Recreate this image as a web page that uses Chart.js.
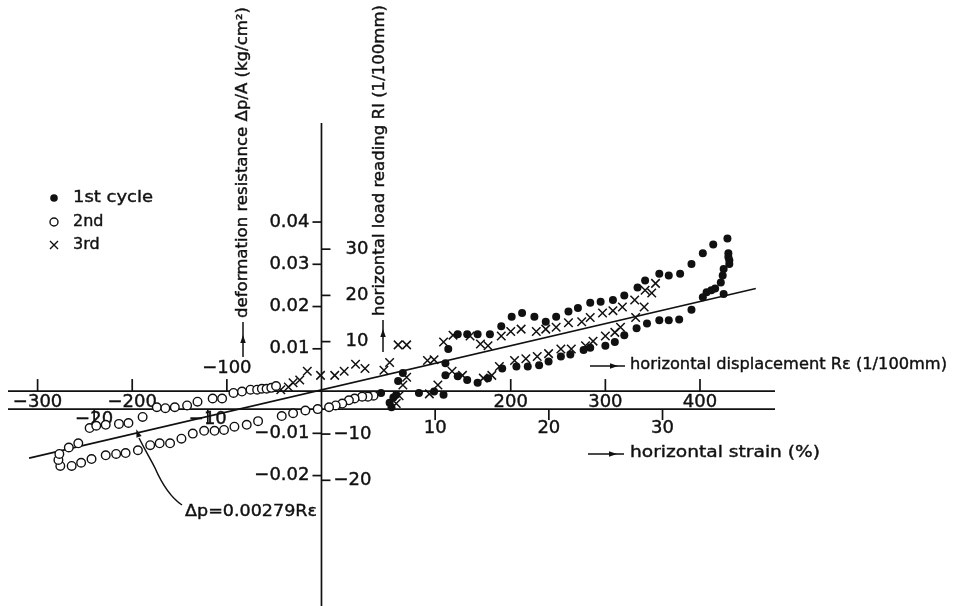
<!DOCTYPE html>
<html>
<head>
<meta charset="utf-8">
<script src="https://cdn.jsdelivr.net/npm/chart.js@4"></script>
<style>
  body { margin: 0; background: #fff; }
  #wrap { width: 953px; height: 606px; position: relative; }
</style>
</head>
<body>
<div id="wrap"><canvas id="chart"></canvas></div>
<script>
// x: horizontal displacement Re (1/100mm), y: horizontal load reading RI (1/100mm)
const firstRe = [63, 72, 74, 76, 79, 81, 86, 103, 119, 129, 131, 131, 134, 144, 154, 165, 178, 190, 201, 212,
  225, 237, 248, 261, 271, 284, 295, 308, 320, 334, 342, 357, 367, 379, 391, 403, 414, 429, 430, 430,
  431, 431, 425, 424, 422, 416, 412, 407, 403, 425, 391, 378, 367, 357, 344, 333, 320, 310, 300, 284,
  277, 263, 253, 240, 230, 218, 206, 191, 176, 165, 154, 144];
const firstRI = [-1.1, -3.2, -4.2, -2.1, -1.5, 1.5, 3.2, -1.1, -0.8, -1.5, 2.7, 5.3, 8.4, 11.6, 11.6, 11.6, 11.6, 13.3, 15.4, 16.2,
  15.4, 14.3, 15.4, 16.5, 17.3, 18.4, 18.6, 19.0, 20.0, 21.7, 23.2, 24.7, 24.3, 24.7, 26.8, 29.1, 31.0, 32.3, 29.1, 28.3,
  27.6, 26.8, 25.7, 24.3, 22.8, 21.5, 21.1, 20.7, 19.6, 20.3, 16.9, 14.8, 14.6, 14.6, 13.9, 12.9, 11.4, 9.9, 9.1, 8.7,
  8.2, 7.2, 6.8, 5.7, 4.9, 4.6, 4.6, 4.2, 2.1, 1.1, 1.7, 2.5];

const secondRe = [55, 49, 43, 35, 29, 22, 15, 8, -4, -17, -30, -42, -67, -79, -92, -103, -113, -124, -136, -148,
  -160, -171, -181, -194, -207, -217, -228, -243, -254, -264, -276, -278, -277, -267, -257, -245, -238, -228, -214, -204,
  -189, -174, -165, -155, -142, -131, -115, -105, -93, -84, -75, -68, -63, -58, -53, -48];
const secondRI = [-1.7, -1.9, -1.9, -2.3, -2.7, -3.4, -3.8, -4.2, -4.6, -4.9, -5.5, -6.1, -7.2, -8.0, -8.4, -9.1, -9.3, -9.3, -9.9, -11.0,
  -12.0, -12.0, -12.4, -13.5, -14.1, -14.3, -14.6, -15.4, -16.2, -16.9, -16.9, -15.6, -14.3, -12.9, -12.0, -8.7, -8.2, -8.0, -7.8, -7.6,
  -6.3, -4.2, -4.4, -4.2, -3.8, -3.0, -2.3, -2.3, -1.1, -0.8, -0.4, -0.4, -0.2, -0.2, 0, 0.4];

const thirdRe = [-43, -35, -30, -23, -15, -1, 14, 24, 36, 46, 66, 72, 81, 90, 90, 86, 82, 79, 112, 119,
  114, 123, 129, 139, 138, 149, 157, 168, 176, 171, 180, 188, 190, 200, 204, 211, 216, 227, 228, 237,
  240, 248, 253, 261, 264, 275, 279, 284, 287, 297, 300, 308, 310, 316, 318, 331, 332, 341, 342, 349, 353];
const thirdRI = [-0.4, 0.2, 1.1, 1.7, 3.6, 2.7, 2.7, 3.6, 5.1, 4.2, 3.8, 5.5, 9.3, 9.3, 2.3, 0.6, -1.7, -3.4, 5.9, 6.1,
  -1.3, 0.6, 9.9, 11.4, 3.6, 2.7, 11.2, 9.5, 9.1, 2.1, 2.7, 4.6, 11.2, 12.2, 5.9, 12.7, 6.3, 12.2, 6.8, 12.7,
  7.4, 13.1, 8.4, 14.1, 8.4, 14.3, 9.1, 15.2, 10.1, 16.2, 11.2, 16.7, 12.0, 13.1, 17.5, 19.0, 15.2, 17.5, 21.1, 20.5, 22.6];

// fitted line  Δp = 0.00279 Rε
const fitRe = [-309, 459];
const fitRI = [-15.2, 21.5];

// axis ticks
const reTicks = [-300, -200, -100, 200, 300, 400];
const strainTicks = [-20, -10, 10, 20, 30];
const dpTicks = [0.04, 0.03, 0.02, 0.01, -0.01, -0.02];
const riTicks = [30, 20, 10, -10, -20];

const legendItems = ['1st cycle', '2nd', '3rd'];

const INK = '#111';
const FONT = '"DejaVu Sans", sans-serif';

function toPoints(xs, ys) {
  return xs.map((v, i) => ({ x: v, y: ys[i] }));
}

function fmtDp(v) {
  return (v < 0 ? '\u2212' : '') + Math.abs(v).toFixed(2);
}

function fmtInt(v) {
  return (v < 0 ? '\u2212' : '') + Math.abs(v);
}

// text with a thin outline so it looks as heavy as the lettering in the scan,
// squeezed/stretched to a given width when one is given
function drawText(ctx, text, x, y, width) {
  ctx.save();
  ctx.translate(x, y);
  if (width) ctx.scale(width / ctx.measureText(text).width, 1);
  ctx.lineWidth = 0.4;
  ctx.fillText(text, 0, 0);
  ctx.strokeText(text, 0, 0);
  ctx.restore();
}

function arrowHead(ctx, x, y, angle, size) {
  ctx.save();
  ctx.translate(x, y);
  ctx.rotate(angle);
  ctx.beginPath();
  ctx.moveTo(size, 0);
  ctx.lineTo(-size * 0.6, -size * 0.55);
  ctx.lineTo(-size * 0.6, size * 0.55);
  ctx.closePath();
  ctx.fill();
  ctx.restore();
}

const axesPlugin = {
  id: 'crossAxes',
  beforeDatasetsDraw(chart) {
    const ctx = chart.ctx;
    const { x, xs, y, yd } = chart.scales;
    const x0 = x.getPixelForValue(0);
    const yTop = yd.getPixelForValue(0);   // displacement axis
    const yLow = yTop + 18;                // strain axis

    ctx.save();
    ctx.strokeStyle = INK;
    ctx.fillStyle = INK;
    ctx.lineWidth = 1.7;

    // axis lines
    ctx.beginPath();
    ctx.moveTo(8, yTop); ctx.lineTo(775, yTop);
    ctx.moveTo(8, yLow); ctx.lineTo(775, yLow);
    ctx.moveTo(x0, 123); ctx.lineTo(x0, 606);
    ctx.stroke();

    ctx.font = '18px ' + FONT;
    ctx.textBaseline = 'middle';

    // displacement ticks (up from upper line)
    ctx.textAlign = 'center';
    reTicks.forEach(v => {
      const px = x.getPixelForValue(v);
      ctx.lineWidth = 1.7;
      ctx.beginPath();
      ctx.moveTo(px, yTop); ctx.lineTo(px, yTop - 12);
      ctx.stroke();
      if (v === -100) drawText(ctx, fmtInt(v), px, yTop - 23);
      else drawText(ctx, fmtInt(v), px, yTop + 11);
    });

    // strain ticks (down from lower line)
    strainTicks.forEach(v => {
      const px = xs.getPixelForValue(v);
      ctx.lineWidth = 1.7;
      ctx.beginPath();
      ctx.moveTo(px, yLow); ctx.lineTo(px, yLow + (v < 0 ? 15 : 11));
      ctx.stroke();
      drawText(ctx, fmtInt(v), px, yLow + (v < 0 ? 10 : 19));
    });

    // deformation resistance ticks (left of vertical axis)
    ctx.textAlign = 'right';
    dpTicks.forEach(v => {
      const py = yd.getPixelForValue(v);
      ctx.lineWidth = 1.7;
      ctx.beginPath();
      ctx.moveTo(x0 - 9, py); ctx.lineTo(x0, py);
      ctx.stroke();
      drawText(ctx, fmtDp(v), x0 - 12, py);
    });

    // load reading ticks (right of vertical axis)
    ctx.textAlign = 'left';
    riTicks.forEach(v => {
      const py = y.getPixelForValue(v);
      ctx.lineWidth = 1.7;
      ctx.beginPath();
      ctx.moveTo(x0, py); ctx.lineTo(x0 + 9, py);
      ctx.stroke();
      drawText(ctx, fmtInt(v), x0 + (v < 0 ? 12 : 24), py);
    });

    // axis titles
    ctx.font = '16px ' + FONT;
    ctx.lineWidth = 1.5;
    ctx.beginPath();
    ctx.moveTo(590, 366); ctx.lineTo(625, 366);
    ctx.moveTo(588, 454); ctx.lineTo(624, 454);
    ctx.stroke();
    arrowHead(ctx, 613, 366, 0, 5);
    arrowHead(ctx, 612, 454, 0, 5);
    drawText(ctx, 'horizontal displacement R\u03b5 (1/100mm)', 630, 365, 317);
    drawText(ctx, 'horizontal strain (%)', 630, 453, 190);

    // vertical titles
    ctx.lineWidth = 1.5;
    ctx.beginPath();
    ctx.moveTo(243, 357); ctx.lineTo(243, 322);
    ctx.moveTo(383, 352); ctx.lineTo(383, 320);
    ctx.stroke();
    arrowHead(ctx, 243, 340, -Math.PI / 2, 5);
    arrowHead(ctx, 383, 334, -Math.PI / 2, 5);

    ctx.save();
    ctx.translate(243, 318);
    ctx.rotate(-Math.PI / 2);
    drawText(ctx, 'deformation resistance \u0394p/A (kg/cm\u00b2)', 0, 0, 311);
    ctx.restore();

    ctx.save();
    ctx.translate(380, 316);
    ctx.rotate(-Math.PI / 2);
    drawText(ctx, 'horizontal load reading RI (1/100mm)', 0, 0, 311);
    ctx.restore();

    // label for the fitted line with its leader
    drawText(ctx, '\u0394p=0.00279R\u03b5', 185, 512, 132);
    ctx.lineWidth = 1.5;
    ctx.beginPath();
    ctx.moveTo(139, 438);
    ctx.bezierCurveTo(146, 452, 150, 458, 155, 468);
    ctx.bezierCurveTo(162, 484, 170, 497, 182, 505);
    ctx.stroke();
    arrowHead(ctx, 138, 434, -Math.PI / 2 - 0.35, 5);

    // legend
    const ly = [198, 222, 245];
    const lw = [80, 0, 0];
    legendItems.forEach((t, i) => {
      drawText(ctx, t, 73, ly[i], lw[i]);
    });
    ctx.beginPath();
    ctx.arc(54, ly[0], 3.8, 0, Math.PI * 2);
    ctx.fill();
    ctx.lineWidth = 1.4;
    ctx.beginPath();
    ctx.arc(54, ly[1], 4, 0, Math.PI * 2);
    ctx.stroke();
    ctx.beginPath();
    ctx.moveTo(50, ly[2] - 4); ctx.lineTo(58, ly[2] + 4);
    ctx.moveTo(58, ly[2] - 4); ctx.lineTo(50, ly[2] + 4);
    ctx.stroke();

    ctx.restore();
  }
};

new Chart(document.getElementById('chart'), {
  type: 'scatter',
  data: {
    datasets: [
      {
        label: '2nd',
        data: toPoints(secondRe, secondRI),
        pointStyle: 'circle',
        pointRadius: 4.3,
        pointBackgroundColor: '#fff',
        pointBorderColor: INK,
        pointBorderWidth: 1.4
      },
      {
        label: '3rd',
        data: toPoints(thirdRe, thirdRI),
        pointStyle: 'crossRot',
        pointRadius: 6,
        pointBorderColor: INK,
        pointBorderWidth: 1.5
      },
      {
        label: '1st cycle',
        data: toPoints(firstRe, firstRI),
        pointStyle: 'circle',
        pointRadius: 4,
        pointBackgroundColor: INK,
        pointBorderColor: INK,
        pointBorderWidth: 0
      },
      {
        type: 'line',
        label: 'fit',
        data: toPoints(fitRe, fitRI),
        borderColor: INK,
        borderWidth: 1.6,
        pointRadius: 0,
        fill: false
      }
    ]
  },
  options: {
    responsive: true,
    maintainAspectRatio: false,
    animation: false,
    events: [],
    layout: { padding: 0 },
    plugins: { legend: { display: false }, tooltip: { enabled: false } },
    scales: {
      // displacement Re, 0 at the vertical axis
      x: { type: 'linear', display: false, min: -331.8, max: 659.45 },
      // horizontal strain (%), 12 Re per 1 %
      xs: { type: 'linear', axis: 'x', display: false, min: -27.619, max: 54.892 },
      // horizontal load reading RI
      y: { type: 'linear', display: false, min: -45.57, max: 82.28 },
      // deformation resistance Δp/A (kg/cm²)
      yd: { type: 'linear', axis: 'y', display: false, min: -0.04909, max: 0.09077 }
    }
  },
  plugins: [axesPlugin]
});
</script>
</body>
</html>
